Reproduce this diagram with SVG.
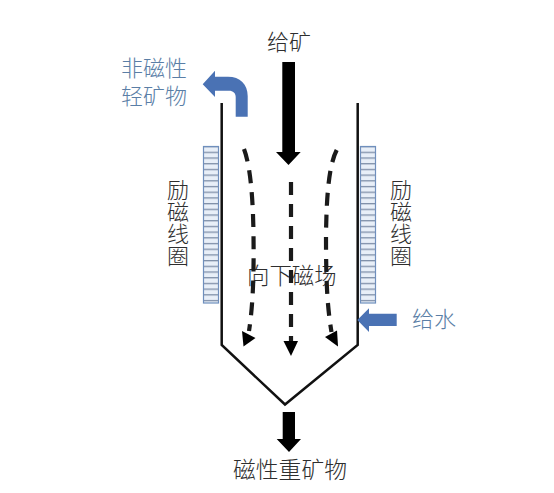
<svg xmlns="http://www.w3.org/2000/svg" width="554" height="493" viewBox="0 0 554 493">
<style>
.t{font-family:"Noto Sans CJK SC","Noto Sans CJK JP",sans-serif;font-size:22px;font-weight:300;fill:#2e2e2e}
.b{fill:#5a7ea6}
.wall{fill:none;stroke:#111;stroke-width:2.5;stroke-linejoin:miter}
.dash{fill:none;stroke:#1a1a1a;stroke-width:4.200;stroke-dasharray:13 9}
.blue{fill:#4a72b4}
.blk{fill:#000}
.coil{fill:url(#stripes);stroke:#6f8fbd;stroke-width:1.2}
</style>
<defs>
<pattern id="stripes" patternUnits="userSpaceOnUse" x="0" y="146" width="10" height="5.7">
<rect width="10" height="5.7" fill="#e8eff8"/>
<rect y="0" width="10" height="1.3" fill="#7f8fa8"/>
</pattern>
</defs>
<rect width="554" height="493" fill="#fff"/>
<g id="vessel"><path class="wall" d="M221.7 103V345L285 404.500L357.700 345V103"/></g>
<g id="coil-left"><rect class="coil" x="203.500" y="146.500" width="15" height="156.500"/></g>
<g id="coil-right"><rect class="coil" x="360.500" y="146.500" width="15" height="156.500"/></g>
<g id="label-field"><text class="t" style="font-size:22.400px" x="247" y="284">向下磁场</text></g>
<g id="connectors">
<path class="blk" d="M282.300 62H295V152H300.700L288.500 165L276 152H282.300Z"/>
<path class="blk" d="M282.700 412H295V439H301L289 452L276.700 439H282.700Z"/>
<path class="blue" d="M202.700 84.300L215 70.700V76.700H228C240 76.700 247.700 84 247.700 96V116.700H235.700V97C235.700 93 233 90.700 229 90.700H215V97Z"/>
<path class="blue" d="M357.300 320L369 308.300V313.700H396.700V326H369V332Z"/>
<path class="dash" d="M291 182V342"/>
<path class="blk" d="M283.500 341H298L291 356Z"/>
<path class="dash" d="M244 149C250 165 253 195 253.500 235C254 275 253 305 249 331"/>
<path class="blk" d="M242 331L255.500 338L243.500 346.500Z"/>
<path class="dash" d="M336.700 150C329 165 326.500 195 326 235C326 280 327 305 331.500 332"/>
<path class="blk" d="M325 337L337 330.500L338 346.500Z"/>
</g>
<g id="label-feed"><text class="t" x="267" y="50">给矿</text></g>
<g id="label-light"><text class="t b" x="121" y="76">非磁性</text><text class="t b" x="121" y="104">轻矿物</text></g>
<g id="label-coil-left"><text class="t" x="167" y="198">励</text><text class="t" x="167" y="220">磁</text><text class="t" x="167" y="242">线</text><text class="t" x="167" y="264">圈</text></g>
<g id="label-coil-right"><text class="t" x="390" y="198">励</text><text class="t" x="390" y="220">磁</text><text class="t" x="390" y="242">线</text><text class="t" x="390" y="264">圈</text></g>
<g id="label-water"><text class="t b" x="412" y="327">给水</text></g>
<g id="label-heavy"><text class="t" style="font-size:22.800px" x="233" y="478">磁性重矿物</text></g>
</svg>
